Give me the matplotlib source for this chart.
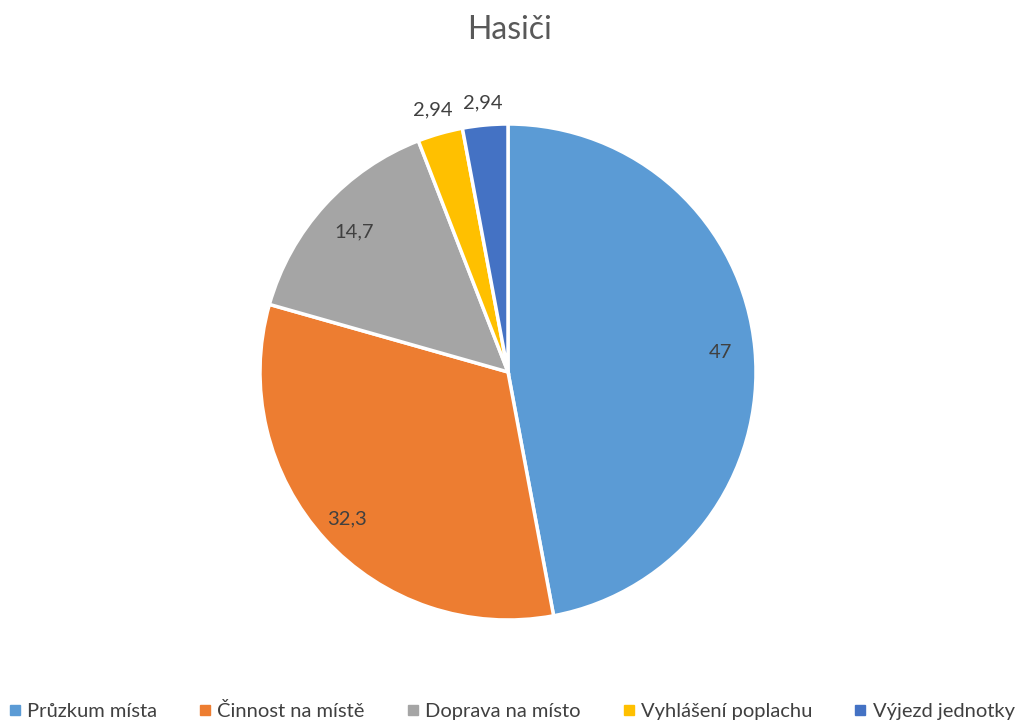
import matplotlib
matplotlib.use("Agg")
import matplotlib.pyplot as plt
from matplotlib.lines import Line2D
import numpy as np

categories = ["Průzkum místa", "Činnost na místě", "Doprava na místo", "Vyhlášení poplachu", "Výjezd jednotky"]
values = [47, 32.3, 14.7, 2.94, 2.94]
value_labels = ["47", "32,3", "14,7", "2,94", "2,94"]
colors = ["#5B9BD5", "#ED7D31", "#A5A5A5", "#FFC000", "#4472C4"]

plt.rcParams['font.family'] = ['Lato', 'DejaVu Sans']

W, H = 1019, 724
fig = plt.figure(figsize=(W / 100, H / 100), dpi=100)
cx, cy, r = 508, 372, 248
ax = fig.add_axes([(cx - r) / W, (H - cy - r) / H, 2 * r / W, 2 * r / H])

wedges, _ = ax.pie(values, colors=colors, startangle=90, counterclock=False,
                   radius=1, wedgeprops=dict(edgecolor="white", linewidth=2.5))
ax.set_xlim(-1, 1)
ax.set_ylim(-1, 1)
ax.set_aspect("equal")
ax.axis("off")

total = sum(values)
dists = [0.86, 0.88, 0.84, 1.1, 1.09]
cum = 0
for v, lab, d in zip(values, value_labels, dists):
    mid = 90 - (cum + v / 2) / total * 360
    cum += v
    a = np.deg2rad(mid)
    ax.text(d * np.cos(a), d * np.sin(a), lab, ha="center", va="center",
            fontsize=14.5, color="#404040", clip_on=False)

fig.text(0.5, 1 - 30 / H, "Hasiči", ha="center", va="center", fontsize=23, color="#595959")

handles = [Line2D([0], [0], marker="s", linestyle="none", markersize=7,
                  markerfacecolor=c, markeredgecolor=c) for c in colors]
fig.legend(handles, categories, loc="center", bbox_to_anchor=(0.5, 1 - 711 / H),
           ncol=5, frameon=False, fontsize=14.5, labelcolor="#404040",
           handletextpad=0.1, columnspacing=1.9, handlelength=1.0)

fig.savefig("out.png", dpi=100)
